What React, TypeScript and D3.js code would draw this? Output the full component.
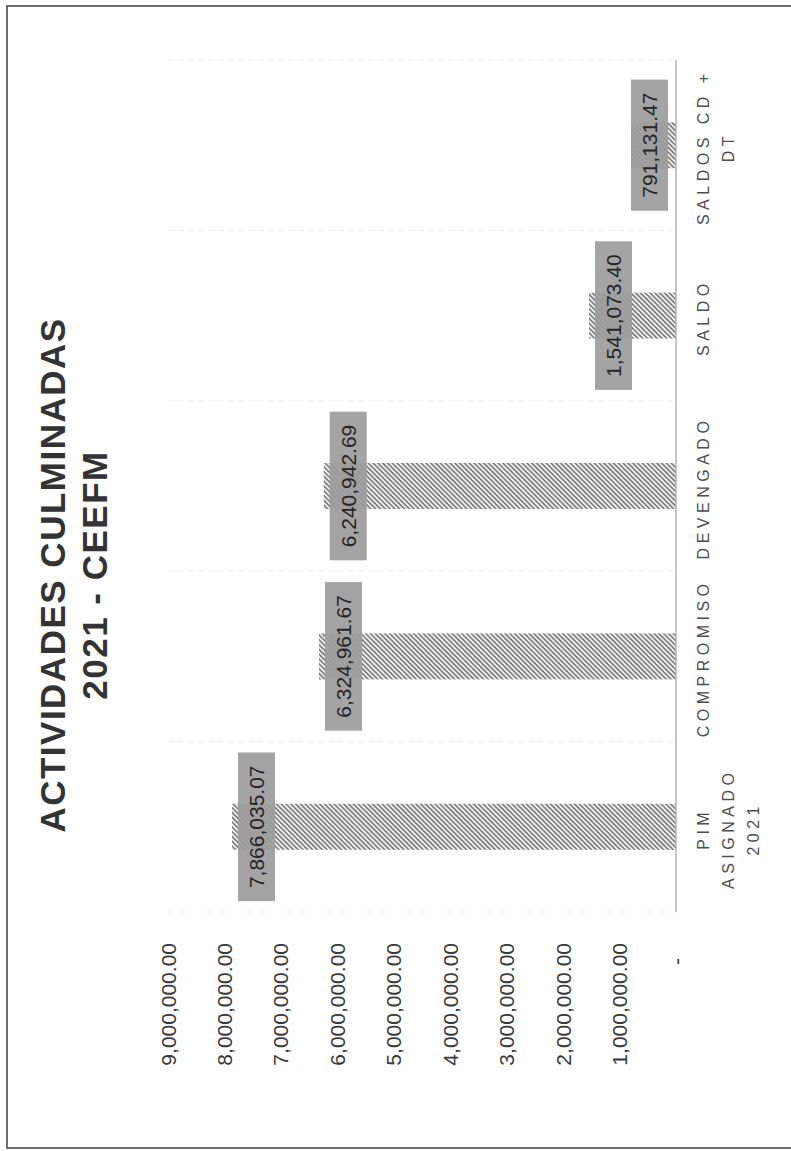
import React, { useEffect, useRef } from "react";
import * as d3 from "d3";

const titleLines = ["ACTIVIDADES CULMINADAS", "2021 - CEEFM"];
const categories = ["PIM ASIGNADO 2021", "COMPROMISO", "DEVENGADO", "SALDO", "SALDOS CD + DT"];
const categoryLines = [["PIM", "ASIGNADO", "2021"], ["COMPROMISO"], ["DEVENGADO"], ["SALDO"], ["SALDOS CD +", "DT"]];
const values = [7866035.07, 6324961.67, 6240942.69, 1541073.4, 791131.47];
const tickValues = [0, 1000000, 2000000, 3000000, 4000000, 5000000, 6000000, 7000000, 8000000, 9000000];

const W = 791;
const H = 1151;

export default function App() {
  const ref = useRef<SVGSVGElement | null>(null);

  useEffect(() => {
    const svg = d3.select(ref.current);
    svg.selectAll("*").remove();

    const font = "'Liberation Sans', Arial, sans-serif";
    const x0 = 676;
    const x = d3.scaleLinear().domain([0, 9000000]).range([x0, 168]);
    const y = d3.scaleBand<string>().domain(categories).range([912, 60]).paddingInner(0.73).paddingOuter(0.365);
    const fmt = d3.format(",.2f");

    const defs = svg.append("defs");
    const pat = defs
      .append("pattern")
      .attr("id", "hatch")
      .attr("patternUnits", "userSpaceOnUse")
      .attr("width", 3.4)
      .attr("height", 10)
      .attr("patternTransform", "rotate(-45)");
    pat.append("rect").attr("width", 3.4).attr("height", 10).attr("fill", "#f2f2f2");
    pat
      .append("line")
      .attr("x1", 1)
      .attr("x2", 1)
      .attr("y1", 0)
      .attr("y2", 10)
      .attr("stroke", "#707070")
      .attr("stroke-width", 1.5);

    svg.append("rect").attr("width", W).attr("height", H).attr("fill", "#fff");

    // frame
    svg
      .append("rect")
      .attr("x", 7)
      .attr("y", 6)
      .attr("width", 800)
      .attr("height", 1142)
      .attr("fill", "none")
      .attr("stroke", "#4a4a4a")
      .attr("stroke-width", 1.6);

    // faint category gridlines
    const step = y.step();
    const bounds = d3.range(categories.length + 1).map((i) => 912 - i * step);
    svg
      .append("g")
      .selectAll("line")
      .data(bounds)
      .join("line")
      .attr("x1", x(9000000))
      .attr("x2", x0)
      .attr("y1", (d) => d)
      .attr("y2", (d) => d)
      .attr("stroke", "#efefef")
      .attr("stroke-width", 1)
      .attr("stroke-dasharray", "6 4");

    // bars
    svg
      .append("g")
      .selectAll("rect")
      .data(categories)
      .join("rect")
      .attr("x", (d, i) => x(values[i]))
      .attr("y", (d) => y(d) as number)
      .attr("width", (d, i) => x0 - x(values[i]))
      .attr("height", y.bandwidth())
      .attr("fill", "url(#hatch)");

    // axis line
    svg
      .append("line")
      .attr("x1", x0)
      .attr("x2", x0)
      .attr("y1", 60)
      .attr("y2", 912)
      .attr("stroke", "#b5b5b5")
      .attr("stroke-width", 1.5);

    // tick labels
    const tickG = svg.append("g");
    tickValues.forEach((v) => {
      const isZero = v === 0;
      tickG
        .append("text")
        .attr("transform", `translate(${x(v) + 7.5},${isZero ? 958 : 943}) rotate(-90)`)
        .attr("text-anchor", "end")
        .attr("font-family", font)
        .attr("font-size", 21)
        .attr("fill", "#3a3a3a")
        .text(isZero ? "-" : fmt(v));
    });

    // category labels
    const catG = svg.append("g");
    categories.forEach((c, i) => {
      const cy = (y(c) as number) + y.bandwidth() / 2;
      categoryLines[i].forEach((line, j) => {
        catG
          .append("text")
          .attr("transform", `translate(${709 + j * 25},${cy + 2}) rotate(-90)`)
          .attr("text-anchor", "middle")
          .attr("font-family", font)
          .attr("font-size", 16)
          .attr("letter-spacing", 4.5)
          .attr("fill", "#4d4d4d")
          .text(line);
      });
    });

    // data labels
    const labG = svg.append("g");
    categories.forEach((c, i) => {
      const cy = (y(c) as number) + y.bandwidth() / 2;
      const g = labG.append("g");
      const rect = g.append("rect");
      const bw = 37;
      const bx = Math.min(x(values[i]) + 6, x0 - 8 - bw);
      const t = g
        .append("text")
        .attr("transform", `translate(${bx + bw / 2 + 7.5},${cy}) rotate(-90)`)
        .attr("text-anchor", "middle")
        .attr("font-family", font)
        .attr("font-size", 21)
        .attr("fill", "#262626")
        .text(fmt(values[i]));
      const len = (t.node() as SVGTextElement).getComputedTextLength();
      const bh = len + 26;
      rect
        .attr("x", bx)
        .attr("y", cy - bh / 2)
        .attr("width", bw)
        .attr("height", bh)
        .attr("fill", "#9c9c9c")
        .attr("fill-opacity", 0.92);
    });

    // title
    const titleG = svg.append("g");
    titleLines.forEach((line, j) => {
      titleG
        .append("text")
        .attr("transform", `translate(${65 + j * 42},575) rotate(-90)`)
        .attr("text-anchor", "middle")
        .attr("font-family", font)
        .attr("font-size", 35)
        .attr("font-weight", "bold")
        .attr("letter-spacing", 1.5)
        .attr("fill", "#333")
        .text(line);
    });
  }, []);

  return (
    <svg
      ref={ref}
      width={W}
      height={H}
      style={{ position: "absolute", left: 0, top: 0, display: "block" }}
    />
  );
}
